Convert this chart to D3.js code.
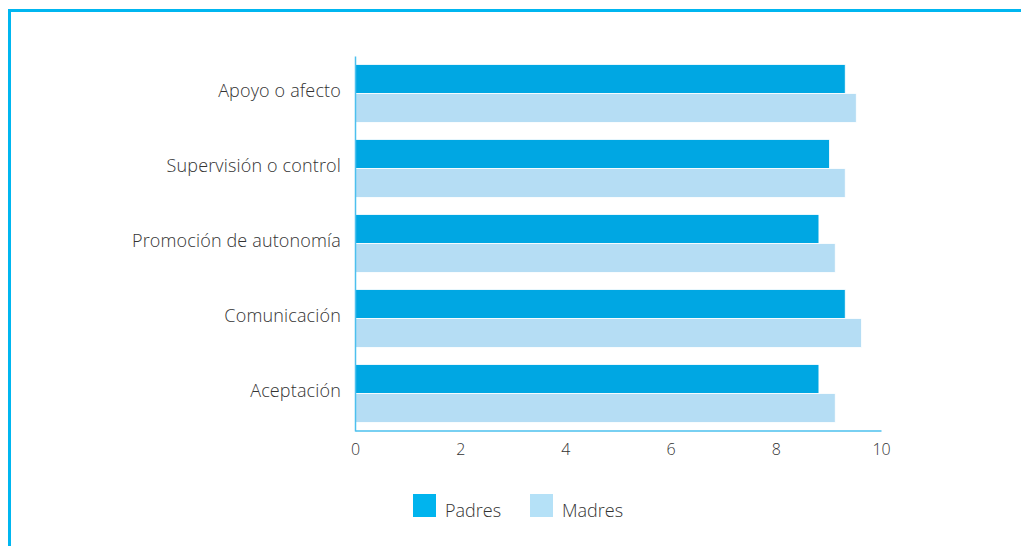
<!DOCTYPE html>
<html><head><meta charset="utf-8">
<script src="https://cdn.jsdelivr.net/npm/d3@7"></script>
<style>body{margin:0;background:#fff}svg{display:block}text{font-family:"Open Sans","Noto Sans",sans-serif;font-weight:300}</style>
</head><body>
<svg id="c" width="1021" height="546"></svg>
<script>
const categories = ["Apoyo o afecto","Supervisión o control","Promoción de autonomía","Comunicación","Aceptación"];
const seriesNames = ["Padres","Madres"];
const padres = [9.32, 9.02, 8.82, 9.32, 8.82];
const madres = [9.53, 9.32, 9.13, 9.63, 9.13];
const xTicks = [0,2,4,6,8,10];

const barColors = ["#00a7e3","#b5ddf4"];
const legendColors = ["#00b4ee","#b5e1f7"];

const svg = d3.select("#c");
// frame
svg.append("path").attr("d","M9.5,546 L9.5,10.5 L1021,10.5")
  .attr("fill","none").attr("stroke","#00b6f0").attr("stroke-width",3);

const x = d3.scaleLinear().domain([0,10]).range([355,881]);
const y = d3.scaleBand().domain(categories).range([56,431]).paddingInner(0.227).paddingOuter(0.113);
const ys = d3.scaleBand().domain(seriesNames).range([0,y.bandwidth()]);

const data = categories.map((c,i)=>({c, vals:[padres[i], madres[i]]}));
const g = svg.append("g");
data.forEach(d=>{
  d.vals.forEach((v,j)=>{
    g.append("rect")
      .attr("x", x(0)).attr("y", y(d.c)+ys(seriesNames[j]))
      .attr("width", x(v)-x(0)).attr("height", ys.bandwidth())
      .attr("fill", barColors[j]).attr("stroke","#fff").attr("stroke-width",0.8);
  });
});

// axes
const xAxis = d3.axisBottom(x).tickValues(xTicks).tickSize(0).tickPadding(13).tickFormat(d3.format("d"));
const gx = svg.append("g").attr("transform","translate(0,430.5)").call(xAxis);
gx.select(".domain").attr("stroke","#4cc0ee").attr("stroke-width",1.5);
gx.selectAll("text").attr("font-size",16).attr("fill","#333").attr("dy","0.71em");

const yAxis = d3.axisLeft(y).tickSize(0).tickPadding(14);
const gy = svg.append("g").attr("transform","translate(355,0)").call(yAxis);
gy.select(".domain").attr("stroke","#4cc0ee").attr("stroke-width",1.5);
gy.selectAll("text").attr("font-size",18).attr("fill","#333").attr("dy","0.2em").attr("letter-spacing","0.15");

// legend
const leg = svg.append("g");
const legX = [413, 530];
seriesNames.forEach((s,i)=>{
  leg.append("rect").attr("x",legX[i]).attr("y",494).attr("width",23).attr("height",23).attr("fill",legendColors[i]);
  leg.append("text").attr("x",legX[i]+32).attr("y",517).attr("font-size",18).attr("fill","#333").text(s);
});
</script>
</body></html>
